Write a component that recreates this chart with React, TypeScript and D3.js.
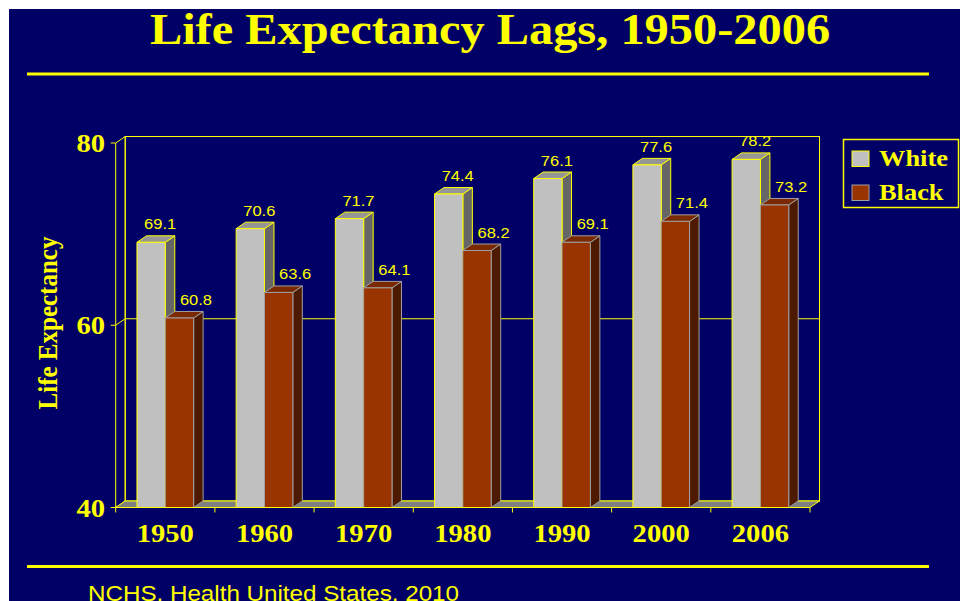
import React from 'react'
import * as d3 from 'd3'

const years = ['1950', '1960', '1970', '1980', '1990', '2000', '2006']
const whiteValues = [69.1, 70.6, 71.7, 74.4, 76.1, 77.6, 78.2]
const blackValues = [60.8, 63.6, 64.1, 68.2, 69.1, 71.4, 73.2]
const seriesNames = ['White', 'Black']
const yTicks = [40, 60, 80]

const W = 960
const H = 601
const NAVY = '#000066'
const YELLOW = '#FFFF00'
const SERIF = '"Liberation Serif", "Times New Roman", serif'
const SANS = '"Liberation Sans", Arial, sans-serif'

// front plane + depth of the 3d box
const x0 = 115.7
const x1 = 810
const DX = 9.5
const DY = -6.5
const SX = 1.1 // text in the source is a bit wide

const colors = {
  White: { front: '#C0C0C0', top: '#969696', side: '#666666', stroke: YELLOW },
  Black: { front: '#993300', top: '#7A2900', side: '#4D1A00', stroke: '#A0A0A0' },
}

const x = d3.scaleBand().domain(years).range([x0, x1]).paddingInner(0).paddingOuter(0)
const xs = d3.scaleBand().domain(seriesNames).range([0, x.bandwidth()]).paddingInner(0).paddingOuter(0.75)
const y = d3.scaleLinear().domain([40, 80]).range([507.5, 143])

const pts = (p: number[][]) => p.map((d) => d.join(',')).join(' ')

const Txt = ({ x, y, size, family, anchor = 'middle', children, bold = true }: any) => (
  <text
    transform={`translate(${x},${y}) scale(${SX},1)`}
    textAnchor={anchor}
    fontFamily={family}
    fontSize={size}
    fontWeight={bold ? 'bold' : 'normal'}
    fill={YELLOW}
  >
    {children}
  </text>
)

const Bar = ({ bx, w, v, c }: any) => {
  const top = y(v)
  const base = y(40)
  return (
    <g stroke={c.stroke} strokeWidth={1} strokeLinejoin="round">
      <polygon points={pts([[bx + w, top], [bx + w + DX, top + DY], [bx + w + DX, base + DY], [bx + w, base]])} fill={c.side} />
      <polygon points={pts([[bx, top], [bx + DX, top + DY], [bx + w + DX, top + DY], [bx + w, top]])} fill={c.top} />
      <rect x={bx} y={top} width={w} height={base - top} fill={c.front} />
    </g>
  )
}

export default function App() {
  const bw = xs.bandwidth()
  const yb = y(40)
  return (
    <svg width={W} height={H} style={{ position: 'fixed', left: 0, top: 0 }}>
      <rect x={0} y={0} width={W} height={H} fill="#ffffff" />
      <rect x={9} y={9} width={W - 9} height={H - 9} fill={NAVY} />

      <Txt x={490} y={44} size={44} family={SERIF}>Life Expectancy Lags, 1950-2006</Txt>
      <line x1={27} x2={929} y1={74} y2={74} stroke={YELLOW} strokeWidth={3} />
      <line x1={27} x2={929} y1={566.5} y2={566.5} stroke={YELLOW} strokeWidth={3} />
      <Txt x={88} y={601} size={22} family={SANS} anchor="start" bold={false}>NCHS, Health United States, 2010</Txt>

      {/* back wall + gridline */}
      <rect x={x0 + DX} y={y(80) + DY} width={x1 - x0} height={y(40) - y(80)} fill="none" stroke={YELLOW} strokeWidth={1} />
      <line x1={x0 + DX} x2={x1 + DX} y1={y(60) + DY} y2={y(60) + DY} stroke={YELLOW} strokeWidth={1} />
      {/* left wall */}
      <polygon points={pts([[x0, y(80)], [x0 + DX, y(80) + DY], [x0 + DX, yb + DY], [x0, yb]])} fill="none" stroke={YELLOW} strokeWidth={1} />
      <line x1={x0} x2={x0 + DX} y1={y(60)} y2={y(60) + DY} stroke={YELLOW} strokeWidth={1} />
      {/* floor */}
      <polygon points={pts([[x0, yb], [x1, yb], [x1 + DX, yb + DY], [x0 + DX, yb + DY]])} fill="#808080" stroke={YELLOW} strokeWidth={1} />

      {/* y ticks */}
      {yTicks.map((t) => (
        <g key={t}>
          <line x1={x0 - 5} x2={x0} y1={y(t)} y2={y(t)} stroke={YELLOW} strokeWidth={1} />
          <Txt x={105} y={y(t) + 9} size={26} family={SERIF} anchor="end">{t}</Txt>
        </g>
      ))}

      {/* bars */}
      {years.map((yr, i) => {
        const gx = x(yr) as number
        const wx = gx + (xs('White') as number)
        const kx = gx + (xs('Black') as number)
        return (
          <g key={yr}>
            <Bar bx={wx} w={bw} v={whiteValues[i]} c={colors.White} />
            <Bar bx={kx} w={bw} v={blackValues[i]} c={colors.Black} />
          </g>
        )
      })}

      {/* floor front edge + x ticks */}
      <line x1={x0} x2={x1} y1={yb} y2={yb} stroke={YELLOW} strokeWidth={1.2} />
      {[...years.map((yr) => x(yr) as number), x1].map((t, i) => (
        <line key={i} x1={t} x2={t} y1={yb} y2={yb + 5} stroke={YELLOW} strokeWidth={1} />
      ))}
      {years.map((yr) => (
        <Txt key={yr} x={(x(yr) as number) + x.bandwidth() / 2} y={542} size={26} family={SERIF}>{yr}</Txt>
      ))}

      {/* data labels */}
      {years.map((yr, i) => {
        const gx = x(yr) as number
        const wc = gx + (xs('White') as number) + bw / 2
        const kc = gx + (xs('Black') as number) + bw / 2
        return (
          <g key={yr}>
            <Txt x={wc + 9} y={y(whiteValues[i]) - 13} size={15} family={SANS} bold={false}>{whiteValues[i].toFixed(1)}</Txt>
            <Txt x={kc + 16.5} y={y(blackValues[i]) - 13} size={15} family={SANS} bold={false}>{blackValues[i].toFixed(1)}</Txt>
          </g>
        )
      })}

      {/* y axis title */}
      <text
        transform={`translate(57,323) scale(${SX},1) rotate(-90)`}
        textAnchor="middle"
        fontFamily={SERIF}
        fontSize={25}
        fontWeight="bold"
        fill={YELLOW}
      >
        Life Expectancy
      </text>

      {/* legend */}
      <rect x={843.5} y={139.5} width={115} height={68} fill="none" stroke={YELLOW} strokeWidth={1.5} />
      {seriesNames.map((s, i) => (
        <g key={s}>
          <rect x={852} y={151 + i * 34} width={17} height={15.5} fill={colors[s as 'White'].front} stroke={colors[s as 'White'].stroke} strokeWidth={1} />
          <Txt x={879} y={166 + i * 34} size={24} family={SERIF} anchor="start">{s}</Txt>
        </g>
      ))}
    </svg>
  )
}
